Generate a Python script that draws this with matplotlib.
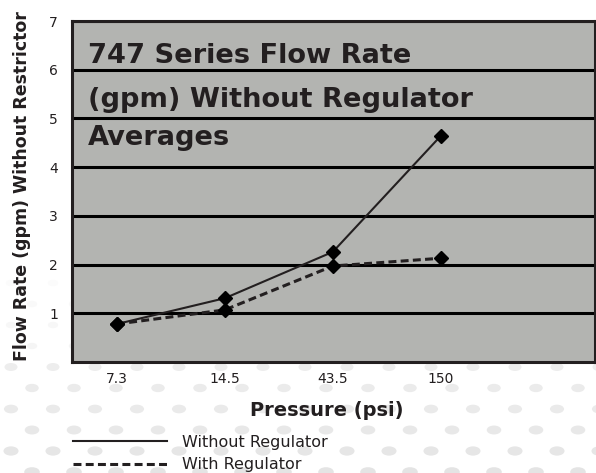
import matplotlib.pyplot as plt
from matplotlib.collections import EllipseCollection
import numpy as np

# data
pressure = ['7.3', '14.5', '43.5', '150']
without_reg = [0.78, 1.31, 2.26, 4.64]
with_reg = [0.78, 1.07, 1.97, 2.13]

title_lines = ['747 Series Flow Rate', '(gpm) Without Regulator', 'Averages']

W, H = 596, 473
ink = '#231f20'
panel = '#b3b4b1'

fig = plt.figure(figsize=(W / 100, H / 100), dpi=100)

# faint dotted backdrop behind everything
bg = fig.add_axes([0, 0, 1, 1], zorder=-5)
bg.set_xlim(0, W)
bg.set_ylim(H, 0)
bg.axis('off')
for r, yy in enumerate(range(283, H + 5, 21)):
    x0 = 11 if r % 2 == 0 else 32
    xs = np.arange(x0, W + 20, 42)
    if yy < 360:
        c = 0.985 - 0.03 * (yy - 283) / 80
        sc = 0.8
    else:
        t = (yy - 367) / (H - 367)
        c = 0.93 - 0.035 * t
        sc = 1.0 + 0.2 * t
    offs = np.column_stack([xs, np.full(len(xs), yy)])
    ec = EllipseCollection(np.full(len(xs), 13 * sc), np.full(len(xs), 8 * sc),
                           np.zeros(len(xs)), units='xy', offsets=offs,
                           offset_transform=bg.transData, facecolors=[(c, c, c)],
                           linewidths=0)
    bg.add_collection(ec)

ax = fig.add_axes([72 / W, 1 - 362 / H, 523 / W, 341 / H])
ax.set_facecolor(panel)
x = np.arange(len(pressure))

ax.plot(x, without_reg, color=ink, lw=1.5, label='Without Regulator', zorder=3)
ax.plot(x, with_reg, color=ink, lw=2.2, dashes=(2.6, 1.4), label='With Regulator', zorder=3)
ax.plot(x, without_reg, 'D', color='black', ms=7, zorder=4)
ax.plot(x, with_reg, 'D', color='black', ms=7, zorder=4)

ax.set_xlim(-0.417, 4.43)
ax.set_ylim(0, 7)
ax.set_xticks(x)
ax.set_xticklabels(pressure)
ax.set_yticks(range(1, 8))
ax.tick_params(length=0, labelsize=10, colors=ink)
ax.tick_params(axis='x', pad=7)
ax.tick_params(axis='y', pad=10)
ax.yaxis.grid(True, color='black', lw=2.2)
ax.set_axisbelow(True)
for s in ax.spines.values():
    s.set_color(ink)
    s.set_linewidth(2.2)

for txt, yb in zip(title_lines, [0.877, 0.748, 0.636]):
    ax.text(0.031, yb, txt, transform=ax.transAxes, fontsize=19.6,
            fontweight='bold', color=ink, va='baseline', ha='left')

fig.text(22 / W, 1 - 186 / H, 'Flow Rate (gpm) Without Restrictor', rotation=90,
         ha='center', va='center', fontsize=12.5, fontweight='bold', color=ink)
fig.text(327 / W, 1 - 410 / H, 'Pressure (psi)', ha='center', va='center',
         fontsize=14, fontweight='bold', color=ink)

fig.legend(loc='upper left', bbox_to_anchor=(73 / W, 1 - 435 / H), frameon=False,
           fontsize=11.5, handlelength=5.9, handletextpad=0.9, labelspacing=0.45,
           borderpad=0, borderaxespad=0, labelcolor=ink)

fig.savefig('out.png', dpi=100)
